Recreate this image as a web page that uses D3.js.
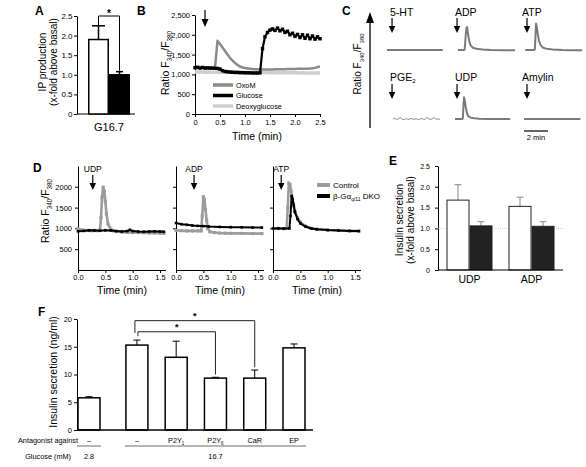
<!DOCTYPE html>
<html><head><meta charset="utf-8">
<script src="https://cdn.jsdelivr.net/npm/d3@7"></script>
<style>
body{margin:0;background:#fff}
svg{display:block}
text{font-family:"Liberation Sans",Arial,Helvetica,sans-serif;fill:#000}
</style>
</head><body>
<svg width="586" height="467"></svg>
<script>
// ================= DATA =================
// Panel A
const aGroups = ["Control", "DKO"];
const aCategory = "G16.7";
const aValues = [1.9, 1.0];
const aErrors = [0.35, 0.08];
const aTicks = [0, 0.5, 1.0, 1.5, 2.0, 2.5];

// Panel B
const bSeries = ["OxoM", "Glucose", "Deoxyglucose"];
const bTime = [0,0.05,0.1,0.15,0.2,0.25,0.3,0.35,0.4,0.45,0.5,0.55,0.6,0.65,0.7,0.75,0.8,0.85,0.9,0.95,1.0,1.05,1.1,1.15,1.2,1.25,1.3,1.35,1.4,1.45,1.5,1.55,1.6,1.65,1.7,1.75,1.8,1.85,1.9,1.95,2.0,2.05,2.1,2.15,2.2,2.25,2.3,2.35,2.4,2.45,2.5];
const bOxoM = [1160,1165,1160,1160,1165,1160,1160,1160,1165,1850,1770,1680,1590,1500,1420,1350,1290,1240,1200,1175,1160,1150,1140,1135,1130,1130,1125,1125,1125,1125,1125,1125,1130,1130,1130,1130,1130,1135,1135,1135,1135,1140,1140,1140,1145,1145,1150,1155,1165,1185,1200];
const bGlucose = [1170,1180,1160,1175,1160,1165,1160,1160,1155,1150,1135,1095,1075,1065,1060,1055,1050,1050,1045,1045,1040,1040,1040,1035,1035,1035,1040,1650,1950,2060,2120,2150,2110,2170,2100,2140,2060,2090,2000,2040,1960,2010,1930,2000,1910,1990,1900,1970,1890,1950,1900];
const bDeoxyglucose = [1060,1062,1058,1060,1057,1058,1056,1057,1055,1056,1054,1055,1053,1054,1052,1053,1051,1052,1050,1051,1049,1050,1048,1049,1047,1048,1046,1047,1045,1046,1044,1045,1043,1044,1042,1043,1041,1042,1040,1041,1039,1040,1038,1039,1037,1038,1036,1037,1035,1036,1035];
const bYTicks = [0, 500, 1000, 1500, 2000, 2500];
const bXTicks = [0, 0.5, 1.0, 1.5, 2.0, 2.5];
const bStimulusTime = 0.2;

// Panel C (traces, ratio units; time in min)
const cNames = ["5-HT", "ADP", "ATP", "PGE", "UDP", "Amylin"];
const cNameSubs = ["", "", "", "2", "", ""];
const cStimulusTimes = [0.42, 0.17, 0.25, 0.42, 0.17, 0.25];
const c5htT = [0, 1, 2, 3, 4, 4.65];
const c5htV = [1000, 1000, 1005, 1000, 995, 1000];
const cAdpT = [0.25,0.6,0.7,0.8,0.85,0.9,0.95,1.0,1.1,1.2,1.3,1.5,1.8,2.3,3.0,4.0,5.0];
const cAdpV = [1000,1000,1000,1010,1300,1700,1950,2000,1650,1350,1200,1100,1050,1020,1000,990,990];
const cAtpT = [0.1,0.5,0.8,0.9,0.95,1.0,1.05,1.15,1.25,1.4,1.6,1.9,2.4,3.2,4.0,4.85];
const cAtpV = [1000,1000,1000,1010,1500,2150,2050,1700,1400,1200,1100,1050,1020,1000,990,990];
const cPgeT = [0.5,0.65,0.8,0.95,1.1,1.25,1.4,1.55,1.7,1.85,2.0,2.15,2.3,2.45,2.6,2.75,2.9,3.05,3.2,3.35,3.5,3.65,3.8,3.95,4.1,4.25,4.4];
const cPgeV = [1000,1030,980,1010,1070,990,970,1010,1000,980,1030,990,1000,1010,970,1000,1020,990,1000,1070,1000,980,1020,1060,990,1000,985];
const cUdpT = [0,0.4,0.55,0.65,0.7,0.75,0.8,0.9,1.0,1.1,1.3,1.6,2.0,2.8,3.6,4.6];
const cUdpV = [1000,1000,1000,1010,1500,1950,1850,1500,1250,1130,1060,1030,1010,1000,1000,1000];
const cAmylinT = [0, 1, 2, 3, 4, 4.7];
const cAmylinV = [1000, 1000, 1000, 1000, 1000, 1000];
const cScaleBarMin = 2;

// Panel D
const dStimuli = ["UDP", "ADP", "ATP"];
const dStimulusTimes = [0.27, 0.33, 0.15];
const dCtrlT = [
  [0,0.05,0.1,0.15,0.2,0.25,0.3,0.35,0.4,0.42,0.44,0.46,0.48,0.5,0.52,0.55,0.6,0.65,0.7,0.8,0.9,1.0,1.1,1.2,1.3,1.4,1.5,1.57],
  [0,0.1,0.2,0.3,0.4,0.46,0.48,0.5,0.52,0.54,0.56,0.58,0.62,0.7,0.8,0.9,1.0,1.2,1.4,1.57],
  [0,0.1,0.2,0.25,0.27,0.29,0.31,0.33,0.35,0.37,0.4,0.45,0.5,0.6,0.7,0.8,1.0,1.2,1.4,1.57]
];
const dCtrlV = [
  [990,970,955,950,950,945,950,945,950,1250,1750,1990,1900,1650,1350,1100,980,940,925,915,905,900,900,895,890,890,885,880],
  [950,945,940,940,940,940,1300,1760,1700,1450,1200,1000,920,900,890,885,880,880,875,875],
  [1000,1000,995,1000,1500,2080,2050,1900,1750,1600,1400,1250,1150,1050,1000,980,960,950,940,935]
];
const dKoT = [
  [0,0.1,0.2,0.3,0.4,0.5,0.6,0.7,0.8,0.9,0.95,1.0,1.1,1.2,1.3,1.4,1.5,1.57],
  [0,0.1,0.2,0.3,0.4,0.5,0.6,0.8,1.0,1.2,1.4,1.57],
  [0,0.1,0.2,0.3,0.32,0.34,0.36,0.38,0.4,0.45,0.5,0.6,0.7,0.8,1.0,1.2,1.4,1.57]
];
const dKoV = [
  [930,940,955,950,945,955,950,935,925,935,965,935,925,920,925,930,925,920],
  [1130,1100,1085,1070,1060,1055,1045,1035,1030,1025,1020,1020],
  [1000,1000,995,1000,1300,1780,1700,1550,1400,1220,1120,1040,1000,980,960,950,940,935]
];
const dYTicks = [500, 1000, 1500, 2000];
const dXTicks = [0, 0.5, 1.0, 1.5];

// Panel E
const eCategories = ["UDP", "ADP"];
const eGroups = ["Control", "DKO"];
const eValues = [[1.68, 1.06], [1.53, 1.05]];
const eErrors = [[0.37, 0.10], [0.22, 0.11]];
const eTicks = [0, 0.5, 1.0, 1.5, 2.0, 2.5];

// Panel F
const fAntagonist = ["–", "–", "P2Y", "P2Y", "CaR", "EP"];
const fAntagonistSub = ["", "", "1", "6", "", ""];
const fGlucose = ["2.8", "16.7", "16.7", "16.7", "16.7", "16.7"];
const fValues = [5.8, 15.3, 13.1, 9.35, 9.35, 14.8];
const fErrors = [0.2, 0.9, 2.9, 0.15, 1.45, 0.7];
const fTicks = [0, 5, 10, 15, 20];
const fSignificance = [[1, 3], [1, 4]];

// ================= DRAWING =================
const svg = d3.select("svg");

function txt(x, y, s, fs, anchor, weight) {
  return svg.append("text").attr("x", x).attr("y", y).attr("font-size", fs)
    .attr("text-anchor", anchor || "start").attr("font-weight", weight || "normal").text(s);
}
function letter(s, x, y) { txt(x, y, s, 12, "start", "bold"); }
function styleAxis(g, fs) {
  g.attr("font-family", null).attr("font-size", fs);
  g.selectAll(".domain").attr("stroke", "#000").attr("stroke-width", 1);
  g.selectAll(".tick line").attr("stroke", "#000");
  g.selectAll(".tick text").attr("fill", "#000");
}
function hline(x1, x2, y, color, w) {
  svg.append("line").attr("x1", x1).attr("x2", x2).attr("y1", y).attr("y2", y)
    .attr("stroke", color || "#000").attr("stroke-width", w || 1);
}
function vline(x, y1, y2, color, w) {
  svg.append("line").attr("x1", x).attr("x2", x).attr("y1", y1).attr("y2", y2)
    .attr("stroke", color || "#000").attr("stroke-width", w || 1);
}
function downArrow(x, y1, tip, w, h) {
  vline(x, y1, tip - h + 1, "#000", 1.2);
  svg.append("path").attr("d", `M${x - w / 2},${tip - h}L${x + w / 2},${tip - h}L${x},${tip}Z`).attr("fill", "#000");
}
function rotLabel(cx, cy, lines, fs, gap) {
  lines.forEach((l, i) => {
    svg.append("text").attr("transform", `translate(${cx + i * gap},${cy}) rotate(-90)`)
      .attr("text-anchor", "middle").attr("dy", "0.35em").attr("font-size", fs).text(l);
  });
}
function ratioLabel(cx, cy, fs) {
  const t = svg.append("text").attr("transform", `translate(${cx},${cy}) rotate(-90)`)
    .attr("text-anchor", "middle").attr("dy", "0.35em").attr("font-size", fs);
  t.append("tspan").text("Ratio F");
  t.append("tspan").attr("font-size", fs * 0.6).attr("dy", fs * 0.3).text("340");
  t.append("tspan").attr("dy", -fs * 0.3).text("/F");
  t.append("tspan").attr("font-size", fs * 0.6).attr("dy", fs * 0.3).text("380");
}
const fmt1 = d => d === 0 ? "0" : d.toFixed(1);

// ---------- Panel A ----------
letter("A", 35, 15);
const aY = d3.scaleLinear().domain([0, 2.5]).range([114, 16]);
const aX = d3.scaleBand().domain(aGroups).range([88, 130]);
svg.append("g").attr("transform", "translate(77,0)")
  .call(d3.axisLeft(aY).tickValues(aTicks).tickSize(3).tickPadding(1.5).tickSizeOuter(0).tickFormat(fmt1))
  .call(g => styleAxis(g, 8));
hline(77, 135, aY(0), "#000", 1);
const aCaps = [13, 7];
aGroups.forEach((grp, i) => {
  const x = aX(grp), w = aX.bandwidth(), cx = x + w / 2;
  vline(cx, aY(aValues[i]), aY(aValues[i] + aErrors[i]), "#000", 1.5);
  hline(cx - aCaps[i] / 2, cx + aCaps[i] / 2, aY(aValues[i] + aErrors[i]), "#000", 1.5);
  svg.append("rect").attr("x", x + 0.75).attr("y", aY(aValues[i])).attr("width", w - 1.5)
    .attr("height", aY(0) - aY(aValues[i])).attr("fill", i === 0 ? "#fff" : "#000")
    .attr("stroke", "#000").attr("stroke-width", 1.5);
});
{
  const c0 = aX(aGroups[0]) + aX.bandwidth() / 2, c1 = aX(aGroups[1]) + aX.bandwidth() / 2;
  svg.append("path").attr("d", `M${c0},${aY(aValues[0] + aErrors[0])}V${aY(2.5)}H${c1}V${aY(aValues[1] + aErrors[1]) - 1}`)
    .attr("fill", "none").attr("stroke", "#000").attr("stroke-width", 1);
  txt((c0 + c1) / 2, 17, "*", 10, "middle", "bold");
}
txt(109, 131, aCategory, 11, "middle");
rotLabel(42, 62, ["IP production", "(x-fold above basal)"], 10, 11.5);

// ---------- Panel B ----------
letter("B", 137, 15);
const bX = d3.scaleLinear().domain([0, 2.5]).range([195, 320]);
const bY = d3.scaleLinear().domain([0, 2500]).range([114, 15]);
svg.append("g").attr("transform", "translate(195,0)")
  .call(d3.axisLeft(bY).tickValues(bYTicks).tickSize(3).tickPadding(2).tickSizeOuter(0))
  .call(g => styleAxis(g, 7.5));
svg.append("g").attr("transform", "translate(0,114)")
  .call(d3.axisBottom(bX).tickValues(bXTicks).tickSize(3).tickPadding(3).tickSizeOuter(0).tickFormat(fmt1))
  .call(g => styleAxis(g, 7.5));
const bLine = d3.line().x((d, i) => bX(bTime[i])).y(d => bY(d));
const bStyles = { "OxoM": ["#8a8a8a", 2.5], "Glucose": ["#000", 2.2], "Deoxyglucose": ["#cfcfcf", 3.5] };
const bData = { "OxoM": bOxoM, "Glucose": bGlucose, "Deoxyglucose": bDeoxyglucose };
["Deoxyglucose", "OxoM", "Glucose"].forEach(s => {
  svg.append("path").datum(bData[s]).attr("d", bLine).attr("fill", "none")
    .attr("stroke", bStyles[s][0]).attr("stroke-width", bStyles[s][1]).attr("stroke-linejoin", "round");
});
svg.append("g").selectAll("rect").data(bGlucose).join("rect")
  .attr("x", (d, i) => bX(bTime[i]) - 1.7).attr("y", d => bY(d) - 1.7).attr("width", 3.4).attr("height", 3.4).attr("fill", "#000");
downArrow(bX(bStimulusTime), 10, 27, 7, 8);
bSeries.forEach((s, i) => {
  const y = 85 + i * 10.5;
  hline(213, 233, y, bStyles[s][0], 3.5);
  txt(236, y, s, 7.3).attr("dy", "0.35em");
});
txt(257, 140, "Time (min)", 10.5, "middle");
ratioLabel(165, 63, 10.5);

// ---------- Panel C ----------
letter("C", 342, 15);
vline(370, 128, 20, "#000", 1.3);
svg.append("path").attr("d", "M366,23L374,23L370,12Z").attr("fill", "#000");
ratioLabel(357, 64, 10);
const cColX = [387, 455, 524];
const cTraces = [[c5htT, c5htV], [cAdpT, cAdpV], [cAtpT, cAtpV], [cPgeT, cPgeV], [cUdpT, cUdpV], [cAmylinT, cAmylinV]];
cNames.forEach((name, i) => {
  const row = Math.floor(i / 3), col = i % 3;
  const base = row === 0 ? 50 : 119;
  const x = d3.scaleLinear().domain([0, 4.75]).range([cColX[col], cColX[col] + 57]);
  const y = d3.scaleLinear().domain([1000, 2000]).range([base, base - 23]);
  const [T, V] = cTraces[i];
  const isPge = name === "PGE";
  svg.append("path").datum(V).attr("d", d3.line().x((d, k) => x(T[k])).y(d => y(d)))
    .attr("fill", "none").attr("stroke", isPge ? "#8a8a8a" : "#7a7a7a")
    .attr("stroke-width", isPge ? 1 : 2).attr("stroke-linejoin", "round");
  const t = txt(cColX[col] + (col === 0 ? 3 : col === 1 ? 0 : -2), row === 0 ? 16 : 81, "", 10.5);
  t.append("tspan").text(name);
  if (cNameSubs[i]) t.append("tspan").attr("font-size", 6).attr("dy", 2).text(cNameSubs[i]);
  const ay = row === 0 ? 18 : 84;
  downArrow(x(cStimulusTimes[i]), ay, ay + 15, 6.5, 7);
});
{
  const x = d3.scaleLinear().domain([0, 4.75]).range([cColX[2], cColX[2] + 57]);
  hline(x(0), x(cScaleBarMin), 131, "#000", 1.2);
  txt((x(0) + x(cScaleBarMin)) / 2, 140, cScaleBarMin + " min", 7.5, "middle");
}

// ---------- Panel D ----------
letter("D", 33, 172);
const dX0 = [78, 176, 273];
const dY = d3.scaleLinear().domain([0, 2500]).range([270, 166]);
dStimuli.forEach((stim, p) => {
  const x = d3.scaleLinear().domain([0, 1.6]).range([dX0[p], dX0[p] + 87.5]);
  svg.append("g").attr("transform", `translate(${dX0[p]},0)`)
    .call(d3.axisLeft(dY).tickValues(dYTicks).tickSize(3).tickPadding(3).tickSizeOuter(0)
      .tickFormat(p === 0 ? d3.format("d") : () => ""))
    .call(g => styleAxis(g, 7.5));
  svg.append("g").attr("transform", "translate(0,270)")
    .call(d3.axisBottom(x).tickValues(dXTicks).tickSize(3).tickPadding(2).tickSizeOuter(0).tickFormat(d => d.toFixed(1)))
    .call(g => styleAxis(g, 7.5));
  const lineC = d3.line().x((d, k) => x(dCtrlT[p][k])).y(d => dY(d));
  const lineK = d3.line().x((d, k) => x(dKoT[p][k])).y(d => dY(d));
  svg.append("path").datum(dCtrlV[p]).attr("d", lineC).attr("fill", "none").attr("stroke", "#9c9c9c").attr("stroke-width", 2.6);
  svg.append("g").selectAll("rect").data(dCtrlV[p]).join("rect")
    .attr("x", (d, k) => x(dCtrlT[p][k]) - 1.6).attr("y", d => dY(d) - 1.6).attr("width", 3.2).attr("height", 3.2).attr("fill", "#9c9c9c");
  svg.append("path").datum(dKoV[p]).attr("d", lineK).attr("fill", "none").attr("stroke", "#000").attr("stroke-width", 2);
  svg.append("g").selectAll("rect").data(dKoV[p]).join("rect")
    .attr("x", (d, k) => x(dKoT[p][k]) - 1.3).attr("y", d => dY(d) - 1.3).attr("width", 2.6).attr("height", 2.6).attr("fill", "#000");
  txt(x(dStimulusTimes[p]), 172, stim, 8.5, "middle");
  downArrow(x(dStimulusTimes[p]), 175, 190, 6.5, 7);
  txt(dX0[p] + 44, 294, "Time (min)", 10.5, "middle");
});
ratioLabel(45, 211, 10.5);
// legend
hline(317, 330, 185, "#9c9c9c", 4);
txt(333, 185, "Control", 8).attr("dy", "0.35em");
hline(317, 330, 196, "#000", 4);
{
  const t = txt(333, 196, "", 8).attr("dy", "0.35em");
  t.append("tspan").text("β-Gα");
  t.append("tspan").attr("font-size", 5).attr("dy", 2).text("q/11");
  t.append("tspan").attr("dy", -2).text(" DKO");
}

// ---------- Panel E ----------
letter("E", 389, 165);
const eY = d3.scaleLinear().domain([0, 2.5]).range([270, 166]);
const eX = d3.scaleBand().domain(eCategories).range([438, 563]).paddingInner(0.258).paddingOuter(0.137);
const eXi = d3.scaleBand().domain(eGroups).range([0, eX.bandwidth()]);
svg.append("g").attr("transform", "translate(438,0)")
  .call(d3.axisLeft(eY).tickValues(eTicks).tickSize(3).tickPadding(5).tickSizeOuter(0).tickFormat(fmt1))
  .call(g => styleAxis(g, 7));
svg.append("line").attr("x1", 438).attr("x2", 563).attr("y1", eY(1)).attr("y2", eY(1))
  .attr("stroke", "#c8c8c8").attr("stroke-width", 0.8).attr("stroke-dasharray", "1,1");
eCategories.forEach((cat, i) => {
  eGroups.forEach((grp, j) => {
    const x = eX(cat) + eXi(grp), w = eXi.bandwidth(), cx = x + w / 2;
    const v = eValues[i][j], e = eErrors[i][j];
    vline(cx, eY(v), eY(v + e), "#888", 1);
    hline(cx - 3.5, cx + 3.5, eY(v + e), "#888", 1);
    svg.append("rect").attr("x", x + 0.5).attr("y", eY(v)).attr("width", w - 1).attr("height", eY(0) - eY(v))
      .attr("fill", j === 0 ? "#fff" : "#222").attr("stroke", "#222").attr("stroke-width", 1);
  });
  txt(eX(cat) + eX.bandwidth() / 2, 283, cat, 10.5, "middle");
});
hline(438, 563, eY(0), "#000", 1.2);
rotLabel(399, 220, ["Insulin secretion", "(x-fold above basal)"], 10, 11.5);

// ---------- Panel F ----------
letter("F", 38, 316);
const fY = d3.scaleLinear().domain([0, 20]).range([430, 319]);
const fGroupNames = Array.from(new Set(fGlucose));
const fSlot = fGlucose.map((g, i) => i + fGroupNames.indexOf(g) * 0.22);
const fX = d3.scaleLinear().domain([0, fSlot[fSlot.length - 1]]).range([89, 294]);
const fBarW = 22;
svg.append("g").attr("transform", "translate(77,0)")
  .call(d3.axisLeft(fY).tickValues(fTicks).tickSize(3).tickPadding(2).tickSizeOuter(0))
  .call(g => styleAxis(g, 7.5));
fValues.forEach((v, i) => {
  const cx = fX(fSlot[i]);
  vline(cx, fY(v), fY(v + fErrors[i]), "#000", 1);
  hline(cx - 3.5, cx + 3.5, fY(v + fErrors[i]), "#000", 1);
  svg.append("rect").attr("x", cx - fBarW / 2).attr("y", fY(v)).attr("width", fBarW).attr("height", fY(0) - fY(v))
    .attr("fill", "#fff").attr("stroke", "#000").attr("stroke-width", 1.5);
  const t = txt(cx, 443, "", 7.3, "middle");
  t.append("tspan").text(fAntagonist[i]);
  if (fAntagonistSub[i]) t.append("tspan").attr("font-size", 4.5).attr("dy", 1.5).text(fAntagonistSub[i]);
});
hline(77, 313, fY(0), "#000", 1.5);
{
  const tops = fValues.map((v, i) => v + fErrors[i]);
  let level = 0;
  const sorted = fSignificance.slice().sort((a, b) => (a[1] - a[0]) - (b[1] - b[0]));
  sorted.forEach(([a, b], k) => {
    const maxTop = d3.max(tops.slice(a, b + 1));
    level = k === 0 ? maxTop + 1.5 : level + 2.0;
    const xa = fX(fSlot[a]) + (k === 0 ? 1 : -2), xb = fX(fSlot[b]);
    const leftEnd = k === 0 ? tops[a] + 0.7 : level - 2.2;
    svg.append("path").attr("d", `M${xa},${fY(leftEnd)}V${fY(level)}H${xb}V${fY(tops[b] + 0.5)}`)
      .attr("fill", "none").attr("stroke", "#222").attr("stroke-width", 1);
    txt((xa + xb) / 2, fY(level) - 1.5, "*", 9, "middle", "bold");
  });
}
txt(78, 443, "Antagonist against", 7.3, "end");
txt(71, 459, "Glucose (mM)", 7.3, "end");
fGroupNames.forEach(g => {
  const idx = fGlucose.map((v, i) => v === g ? i : -1).filter(i => i >= 0);
  const x1 = fX(fSlot[idx[0]]) - 12, x2 = fX(fSlot[idx[idx.length - 1]]) + 12;
  hline(x1, x2, 446, "#444", 0.8);
  txt((x1 + x2) / 2, 459, g, 7.3, "middle");
});
rotLabel(53, 372, ["Insulin secretion (ng/ml)"], 10.5, 0);
</script>
</body></html>
